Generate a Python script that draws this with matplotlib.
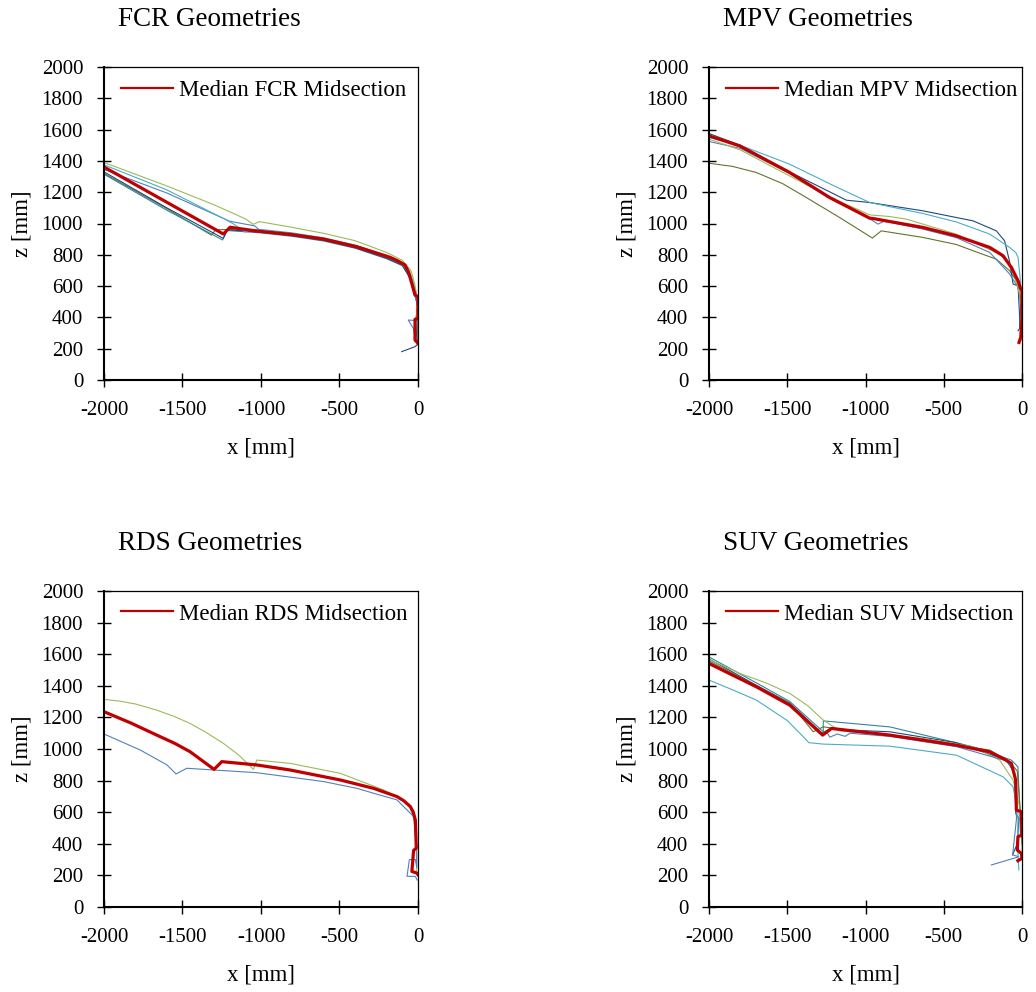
import matplotlib
matplotlib.use('Agg')  # no UI backend

import matplotlib.pyplot as plt
from matplotlib.lines import Line2D

plt.rcParams['font.family'] = ['Liberation Serif', 'DejaVu Serif']
plt.rcParams['axes.unicode_minus'] = False

# ---------------- FCR ----------------
fcr_median_x = [-2000, -1240, -1197, -1027, -815, -603, -391, -178, -130, -83, -60, -40, -19, 0, 0, -19, -19, 0]
fcr_median_z = [1361, 933, 976, 952, 931, 901, 852, 784, 762, 735, 690, 618, 543, 532, 394, 388, 256, 234]

fcr_green_x = [-2000, -1600, -1300, -1100, -1050, -1010, -800, -600, -400, -200, -100, -45, -20, -5, 0, -10, -10, 0]
fcr_green_z = [1390, 1240, 1120, 1030, 995, 1012, 975, 937, 890, 815, 765, 700, 610, 520, 460, 455, 400, 395]
fcr_cyan_x = [-2000, -1600, -1220, -1180, -1100, -1070, -1000, -800, -600, -400, -200, -90, -40, -12, 0]
fcr_cyan_z = [1375, 1215, 1022, 1000, 945, 960, 962, 940, 908, 862, 795, 745, 660, 560, 480]
fcr_blue_x = [-2000, -1600, -1200, -1150, -1040, -1000, -800, -600, -400, -200, -100, -50, -20, -5, 0, -62, -30, -19, -5]
fcr_blue_z = [1345, 1195, 1015, 1005, 985, 950, 928, 898, 850, 785, 740, 670, 560, 470, 380, 383, 330, 277, 240]
fcr_dark_x = [-2000, -1600, -1240, -1215, -1000, -800, -600, -400, -200, -100, -40, -15, 0, -15, -10, 0, -19, -104]
fcr_dark_z = [1330, 1100, 905, 960, 945, 922, 892, 845, 778, 735, 630, 520, 480, 380, 290, 230, 213, 181]
fcr_teal_x = [-2000, -1600, -1245, -1215, -1000, -800, -600, -400, -200, -100, -40, -10, 0, 0]
fcr_teal_z = [1315, 1085, 895, 955, 940, 918, 888, 842, 775, 730, 640, 540, 470, 300]
fcr_olive_x = [-2000, -1600, -1315, -1290, -1200, -1000, -800, -600, -400, -200, -100, -45, -15, 0, -5, 0]
fcr_olive_z = [1320, 1095, 925, 960, 962, 948, 925, 895, 848, 782, 738, 660, 560, 450, 350, 260]

# ---------------- MPV ----------------
mpv_median_x = [-2000, -1804, -1485, -1229, -973, -940, -920, -633, -420, -206, -121, -68, -25, -8, 0, 0, -8, -19]
mpv_median_z = [1560, 1496, 1326, 1166, 1034, 1030, 1026, 975, 921, 847, 794, 719, 634, 581, 570, 400, 272, 240]

mpv_olive_x = [-2000, -1850, -1698, -1530, -1378, -1165, -956, -899, -633, -420, -313, -164, -79, -40, -15, 0]
mpv_olive_z = [1385, 1365, 1326, 1255, 1166, 1038, 907, 953, 911, 866, 826, 772, 698, 640, 549, 500]
mpv_dark_x = [-2000, -1800, -1485, -1122, -973, -633, -313, -164, -111, -80, -57, -25, -15, -15, -25]
mpv_dark_z = [1575, 1500, 1330, 1149, 1134, 1081, 1017, 953, 889, 760, 613, 602, 400, 330, 315]
mpv_cyan_x = [-2000, -1800, -1485, -1200, -973, -633, -420, -206, -79, -40, -25, -12, -5, 0]
mpv_cyan_z = [1549, 1500, 1379, 1240, 1134, 1064, 1010, 932, 847, 815, 783, 650, 549, 450]
mpv_blue_x = [-2000, -1800, -1485, -1229, -973, -920, -880, -633, -420, -206, -79, -25, -10, -8, -5]
mpv_blue_z = [1524, 1480, 1320, 1160, 1030, 996, 1015, 964, 910, 815, 677, 592, 500, 400, 300]
mpv_green_x = [-2000, -1800, -1485, -1229, -973, -850, -739, -420, -143, -60, -15, 0, 0]
mpv_green_z = [1539, 1470, 1304, 1170, 1055, 1045, 1028, 932, 804, 720, 549, 450, 270]

# ---------------- RDS ----------------
rds_median_x = [-2000, -1830, -1664, -1550, -1452, -1299, -1250, -1027, -814, -495, -283, -134, -90, -49, -30, -17, -11, -28, -39, -8, 0]
rds_median_z = [1236, 1165, 1088, 1036, 983, 871, 920, 899, 867, 804, 751, 699, 672, 636, 600, 551, 373, 358, 225, 215, 204]

rds_green_x = [-2000, -1900, -1800, -1664, -1550, -1452, -1350, -1240, -1140, -1048, -1027, -814, -495, -219, -100, -49, -20, -11, -8]
rds_green_z = [1314, 1303, 1285, 1246, 1205, 1162, 1105, 1036, 960, 871, 930, 909, 846, 741, 680, 625, 540, 467, 215]
rds_blue_x = [-2000, -1770, -1600, -1541, -1473, -1027, -602, -389, -283, -134, -92, -28, -8, -8, -17, -55, -70, -17, -5]
rds_blue_z = [1095, 994, 900, 842, 878, 850, 794, 751, 720, 678, 636, 573, 383, 250, 300, 300, 194, 194, 170]

# ---------------- SUV ----------------
suv_median_x = [-2000, -1696, -1483, -1274, -1217, -845, -419, -206, -121, -68, -40, -36, -4, 0, -26, -30, -4, 0, -26]
suv_median_z = [1541, 1393, 1277, 1088, 1130, 1088, 1024, 982, 940, 909, 803, 613, 603, 455, 445, 360, 339, 308, 293]

suv_teal_x = [-2000, -1700, -1483, -1270, -1270, -845, -313, -68, -26, -15, -10]
suv_teal_z = [1583, 1420, 1300, 1109, 1178, 1140, 1014, 930, 887, 634, 450]
suv_dark_x = [-2000, -1700, -1483, -1280, -1230, -845, -419, -100, -47, -40, -20, -30, -60]
suv_dark_z = [1570, 1405, 1290, 1100, 1125, 1109, 1040, 930, 845, 592, 560, 400, 330]
suv_green_x = [-2000, -1802, -1640, -1483, -1370, -1270, -1164, -632, -313, -143, -57, -15, 0, 0]
suv_green_z = [1566, 1478, 1420, 1351, 1275, 1183, 1115, 1067, 1014, 930, 803, 634, 500, 330]
suv_olive_x = [-2000, -1700, -1483, -1334, -1270, -845, -206, -80, -30, -10, 0]
suv_olive_z = [1558, 1400, 1290, 1109, 1140, 1088, 993, 920, 860, 600, 400]
suv_blue_x = [-2000, -1700, -1483, -1280, -1250, -1228, -1180, -1130, -1100, -845, -419, -100, -50, -35, -60, -20, -196]
suv_blue_z = [1550, 1390, 1285, 1100, 1110, 1075, 1095, 1080, 1100, 1080, 1015, 925, 860, 560, 330, 318, 266]
suv_cyan_x = [-2000, -1850, -1696, -1500, -1400, -1362, -1270, -845, -419, -121, -57, -26, -26, -20]
suv_cyan_z = [1436, 1375, 1309, 1180, 1080, 1040, 1031, 1018, 961, 824, 761, 592, 350, 234]

# colours (Office palette)
DARK = '#1F497D'
BLUE = '#4F81BD'
CYAN = '#4BACC6'
GREEN = '#9BBB59'
OLIVE = '#5F7530'
TEAL = '#31859C'
RED = '#C00000'

panels = [
    ('FCR', [104, 67, 418, 380], fcr_median_x, fcr_median_z,
     [(fcr_olive_x, fcr_olive_z, OLIVE), (fcr_teal_x, fcr_teal_z, TEAL),
      (fcr_dark_x, fcr_dark_z, DARK), (fcr_blue_x, fcr_blue_z, BLUE),
      (fcr_cyan_x, fcr_cyan_z, CYAN), (fcr_green_x, fcr_green_z, GREEN)]),
    ('MPV', [709, 67, 1022, 380], mpv_median_x, mpv_median_z,
     [(mpv_olive_x, mpv_olive_z, OLIVE), (mpv_dark_x, mpv_dark_z, DARK),
      (mpv_cyan_x, mpv_cyan_z, CYAN), (mpv_blue_x, mpv_blue_z, BLUE),
      (mpv_green_x, mpv_green_z, GREEN)]),
    ('RDS', [104, 591, 418, 907], rds_median_x, rds_median_z,
     [(rds_green_x, rds_green_z, GREEN), (rds_blue_x, rds_blue_z, BLUE)]),
    ('SUV', [709, 591, 1022, 907], suv_median_x, suv_median_z,
     [(suv_teal_x, suv_teal_z, TEAL), (suv_dark_x, suv_dark_z, DARK),
      (suv_green_x, suv_green_z, GREEN), (suv_olive_x, suv_olive_z, OLIVE),
      (suv_blue_x, suv_blue_z, BLUE), (suv_cyan_x, suv_cyan_z, CYAN)]),
]

W, H = 1036, 992
fig = plt.figure(figsize=(W / 100, H / 100), dpi=100)

for name, (x0, y0, x1, y1), mx, mz, thin in panels:
    ax = fig.add_axes([x0 / W, 1 - y1 / H, (x1 - x0) / W, (y1 - y0) / H])
    for tx, tz, col in thin:
        ax.plot(tx, tz, color=col, linewidth=0.8)
    ax.plot(mx, mz, color=RED, linewidth=2.3, solid_joinstyle='round')

    ax.set_xlim(-2000, 0)
    ax.set_ylim(0, 2000)
    ax.set_xticks(range(-2000, 1, 500))
    ax.set_yticks(range(0, 2001, 200))
    ax.tick_params(direction='inout', length=10, width=1.0, pad=10,
                   labelsize=15, top=False, right=False)
    for s in ['left', 'bottom']:
        ax.spines[s].set_linewidth(1.5)
    for s in ['top', 'right']:
        ax.spines[s].set_linewidth(0.9)

    pw = x1 - x0
    ph = y1 - y0
    ax.set_xlabel('x [mm]', fontsize=16.5, va='center')
    ax.xaxis.set_label_coords(0.5, -68 / ph)
    ax.set_ylabel('z [mm]', fontsize=16.5, va='center', ha='center')
    ax.yaxis.set_label_coords(-82 / pw, 0.5)

    ax.annotate(name + ' Geometries', xy=(14 / pw, 1), xycoords='axes fraction',
                xytext=(0, 47 * 0.72), textcoords='offset points',
                ha='left', va='center', fontsize=19.5)

    handle = Line2D([], [], color=RED, linewidth=1.6)
    ax.legend([handle], ['Median ' + name + ' Midsection'], loc='center left',
              bbox_to_anchor=(17 / pw, 1 - 23 / ph), frameon=False,
              fontsize=16.5, borderpad=0, borderaxespad=0,
              handlelength=2.27, handletextpad=0.25)

plt.savefig('out.png', dpi=100)  # savefig, don't show
